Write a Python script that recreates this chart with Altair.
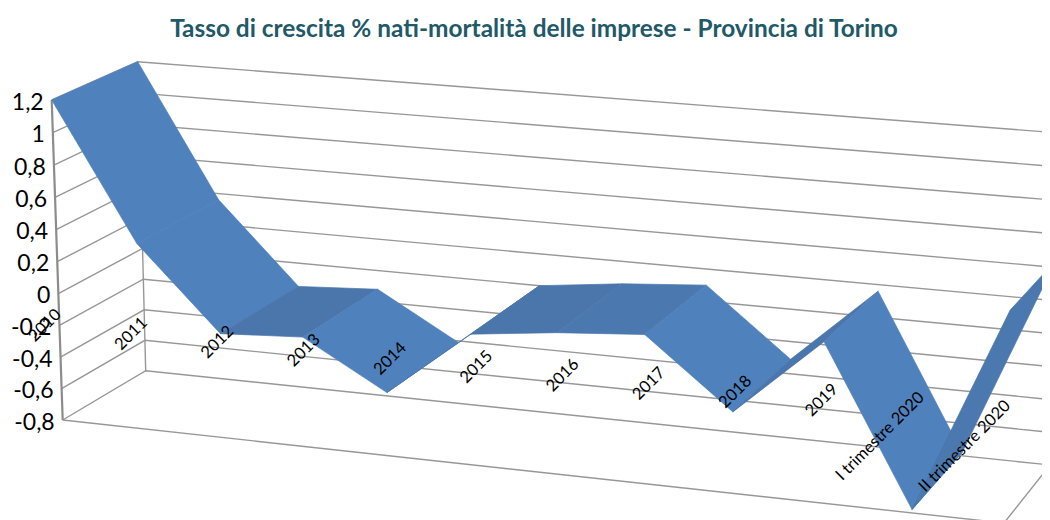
import altair as alt
import numpy as np
import pandas as pd

TITLE = "Tasso di crescita % nati-mortalità delle imprese - Provincia di Torino"
categories = ["2010", "2011", "2012", "2013", "2014", "2015", "2016", "2017", "2018", "2019",
              "I trimestre 2020", "II trimestre 2020"]
values = [1.2, 0.36, -0.15, -0.12, -0.41, 0.0, 0.06, 0.10, -0.31, 0.16, -0.78, 0.445]
ticks = [1.2, 1.0, 0.8, 0.6, 0.4, 0.2, 0.0, -0.2, -0.4, -0.6, -0.8]
tick_labels = ["1,2", "1", "0,8", "0,6", "0,4", "0,2", "0", "-0,2", "-0,4", "-0,6", "-0,8"]
LIGHT, DARK, DARK2 = "#4F81BD", "#4A76AB", "#4B78AE"
seg_colors = [LIGHT, LIGHT, DARK, LIGHT, DARK, DARK, DARK2, LIGHT, DARK, LIGHT, DARK2]


def homography(corners):
    # maps (t, u) in the unit square to the picture plane
    src = [(0, 0), (1, 0), (1, 1), (0, 1)]
    A, b = [], []
    for (s, t), (x, y) in zip(src, corners):
        A.append([s, t, 1, 0, 0, 0, -s * x, -t * x]); b.append(x)
        A.append([0, 0, 0, s, t, 1, -s * y, -t * y]); b.append(y)
    h = np.linalg.solve(np.array(A, float), np.array(b, float))
    return np.append(h, 1).reshape(3, 3)


# corners of each vertical plane: bottom-left, bottom-right, top-right, top-left
BACK = homography([(145.7, 370.7), (1050, 465), (1060, 133), (137.7, 61.7)])
FRONT = homography([(62.7, 420), (1004, 523), (1014, 178), (51.7, 100)])
N = len(categories) - 1


def project(i, v, plane):
    p = plane @ np.array([i / N, (v + 0.8) / 2.0, 1.0])
    return float(p[0] / p[2]), float(p[1] / p[2])


# walls and floor
rows = []
for k, v in enumerate(ticks):
    for order, pt in enumerate([project(0, v, FRONT), project(0, v, BACK), project(N, v, BACK)]):
        rows.append(dict(g=f"t{k}", o=order, x=pt[0], y=pt[1]))
for name, pts in {
    "floor": [project(0, -0.8, FRONT), project(N, -0.8, FRONT), project(N, -0.8, BACK)],
    "back_edge": [project(0, -0.8, BACK), project(0, 1.2, BACK)],
}.items():
    for order, pt in enumerate(pts):
        rows.append(dict(g=name, o=order, x=pt[0], y=pt[1]))
grid = pd.DataFrame(rows)

edge = pd.DataFrame([dict(g="e", o=o, x=p[0], y=p[1]) for o, p in
                     enumerate([project(0, 1.2, FRONT), project(0, -0.8, FRONT)])])

# ribbon: one four-sided piece for each pair of neighbouring categories
rows = []
for s in range(N):
    corners = [project(s, values[s], FRONT), project(s + 1, values[s + 1], FRONT),
               project(s + 1, values[s + 1], BACK), project(s, values[s], BACK)]
    for o, pt in enumerate(corners + corners[:1]):
        rows.append(dict(seg=s, o=o, x=pt[0], y=pt[1], c=seg_colors[s]))
ribbon = pd.DataFrame(rows)

ylab = pd.DataFrame([dict(t=t, x=project(0, v, FRONT)[0], y=project(0, v, FRONT)[1])
                     for t, v in zip(tick_labels, ticks)])
# the category labels are evenly spaced along a straight line, without perspective
xlab = pd.DataFrame([dict(t=t, x=58.5 + 86.3 * i, y=312 + 8.3 * i)
                     for i, t in enumerate(categories)])

X = alt.X("x:Q", scale=alt.Scale(domain=[8, 1042], nice=False, zero=False), axis=None)
Y = alt.Y("y:Q", scale=alt.Scale(domain=[520, 48], nice=False, zero=False), axis=None)

grid_layer = alt.Chart(grid).mark_line(color="#979797", strokeWidth=1.4, clip=True).encode(
    x=X, y=Y, detail="g:N", order="o:Q")
edge_layer = alt.Chart(edge).mark_line(color="#8C8C8C", strokeWidth=2.2, clip=True).encode(
    x=X, y=Y, detail="g:N", order="o:Q")

ribbon_layers = [
    alt.Chart(ribbon[ribbon.seg == s]).mark_line(fill=seg_colors[s], stroke=seg_colors[s],
                                                 strokeWidth=0.7, clip=True).encode(
        x=X, y=Y, order="o:Q")
    for s in range(N)
]

ylab_layer = alt.Chart(ylab).mark_text(align="right", baseline="middle", font="Lato", fontSize=23,
                                       dx=-8, dy=2.5, color="#000000").encode(x=X, y=Y, text="t:N")
xlab_layer = alt.Chart(xlab).mark_text(align="right", baseline="middle", font="Lato", fontSize=16.5,
                                       angle=315, color="#000000").encode(x=X, y=Y, text="t:N")

chart = alt.layer(grid_layer, edge_layer, *ribbon_layers, ylab_layer, xlab_layer).properties(
    width=1034, height=472,
    title=alt.TitleParams(TITLE, font="Lato", fontSize=24.4, fontWeight="bold", color="#215968",
                          anchor="middle", dx=9, offset=6),
    padding={"left": 0, "top": 40, "right": 0, "bottom": 0},
    autosize=alt.AutoSizeParams(type="none"),
).configure_view(stroke=None)

chart.save("out.html", embed_options={"renderer": "svg", "actions": False})
